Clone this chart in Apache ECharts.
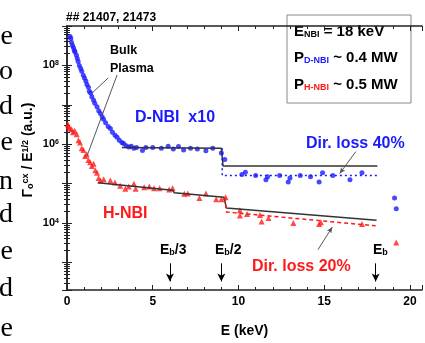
<!DOCTYPE html>
<html lang="en">
<head>
<meta charset="UTF-8">
<title>CX flux spectra</title>
<style>
    html, body { margin: 0; padding: 0; background: #fff; }
    #main { width: 425px; height: 343px; }
</style>
</head>
<body>
<div id="main"></div>
<script src="https://cdn.jsdelivr.net/npm/echarts@6/dist/echarts.min.js"></script>
<script>
    // D-NBI points (already x10), energy in keV
    var dnbiE = [0.18, 0.22, 0.27, 0.32, 0.38, 0.43, 0.47, 0.55, 0.6, 0.65, 0.72, 0.8, 0.86, 0.95, 1.02, 1.1,
        1.16, 1.25, 1.3, 1.38, 1.45, 1.55, 1.62, 1.75, 1.85, 1.95, 2.05, 2.13, 2.25, 2.4, 2.53, 2.65, 2.8,
        2.92, 3.05, 3.2, 3.3, 3.45, 3.6, 3.75, 3.9, 4.05, 4.4, 4.6, 5.0, 5.5, 5.9, 6.2, 6.5, 6.8, 7.2, 7.6,
        8.1, 8.5, 9.0, 9.2, 10.2, 10.4, 11.0, 11.6, 11.7, 12.4, 12.9, 13.0, 13.6, 14.2, 14.7, 14.9, 15.5,
        16.5, 17.2, 19.1, 19.2];
    var dnbiFlux = [5.4e8, 4.8e8, 3.8e8, 3.2e8, 2.8e8, 2.4e8, 2.2e8, 1.8e8, 1.5e8, 1.26e8, 1.0e8, 8.3e7, 7.1e7,
        5.6e7, 4.8e7, 4.0e7, 3.3e7, 2.8e7, 2.2e7, 2.0e7, 1.6e7, 1.3e7, 1.1e7, 8.9e6, 7.1e6, 6.0e6, 5.0e6,
        4.3e6, 3.5e6, 2.8e6, 2.5e6, 2.0e6, 1.7e6, 1.5e6, 1.26e6, 1.1e6, 1.05e6, 9.1e5, 8.5e5, 8.9e5, 7.9e5,
        8.3e5, 6.9e5, 8.3e5, 8.3e5, 7.9e5, 8.9e5, 7.6e5, 8.7e5, 7.1e5, 7.9e5, 7.6e5, 6.8e5, 7.9e5, 6.0e5,
        4.1e5, 1.7e5, 1.95e5, 1.6e5, 1.26e5, 1.5e5, 1.6e5, 1.1e5, 1.4e5, 1.6e5, 1.5e5, 1.1e5, 1.9e5, 1.6e5,
        1.26e5, 1.9e5, 4.3e4, 2.3e4];

    // H-NBI points
    var hnbiE = [0.05, 0.1, 0.15, 0.27, 0.35, 0.45, 0.57, 0.67, 0.76, 0.86, 0.96, 1.06, 1.15, 1.25, 1.35, 1.45,
        1.55, 1.65, 1.75, 1.84, 1.95, 2.14, 2.53, 2.8, 3.1, 3.4, 3.6, 3.9, 4.0, 4.5, 4.8, 5.08, 5.4, 5.96,
        6.16, 6.84, 7.04, 7.72, 8.1, 8.7, 9.0, 9.25, 10.08, 10.08, 10.5, 11.25, 11.35, 11.75, 13.2, 14.7,
        14.8, 17.2, 19.2];
    var hnbiFlux = [3.2e6, 2.8e6, 2.5e6, 2.4e6, 2.0e6, 2.2e6, 1.8e6, 1.26e6, 1.1e6, 7.9e5, 7.1e5, 5.0e5, 5.6e5,
        4.0e5, 3.5e5, 2.8e5, 3.2e5, 2.2e5, 1.9e5, 1.4e5, 1.2e5, 1.3e5, 1.2e5, 1.07e5, 8.9e4, 7.4e4, 8.5e4,
        1.0e5, 7.4e4, 8.1e4, 8.5e4, 7.6e4, 7.6e4, 7.1e4, 7.6e4, 5.5e4, 5.6e4, 4.3e4, 5.6e4, 4.0e4, 4.0e4,
        4.5e4, 2.1e4, 1.55e4, 1.7e4, 1.6e4, 1.1e4, 1.35e4, 1.0e4, 9.5e3, 1.05e4, 9.5e3, 3.2e3];

    // bulk plasma model curves (black) and direct-loss curves (dashed)
    var bulkDE = [3.2, 9.0, 9.1, 18.1];
    var bulkDFlux = [8.3e5, 7.9e5, 2.8e5, 2.8e5];
    var lossDE = [9.05, 9.05, 18.1];
    var lossDFlux = [7.9e5, 1.6e5, 1.6e5];
    var bulkHE = [1.8, 6.15, 6.25, 9.15, 9.3, 18.05];
    var bulkHFlux = [1.05e5, 6.8e4, 5.9e4, 4.5e4, 2.4e4, 1.17e4];
    var lossHE = [9.2, 9.3, 18.0];
    var lossHFlux = [4.5e4, 1.9e4, 8.5e3];

    var xTicks = [0, 5, 10, 15, 20];
    var yLabelPowers = [4, 6, 8];

    function pairs(xs, ys) {
        return xs.map(function (x, i) { return [x, ys[i]]; });
    }

    var FONT = '"Liberation Sans", Arial, sans-serif';
    var BLUE = '#1a1aff';
    var RED = '#ff1a1a';
    var INK = '#222';

    var chart = echarts.init(document.getElementById('main'), null, {renderer: 'canvas'});

    var axisLine = {show: true, lineStyle: {color: INK, width: 1.5}};
    var xCommon = {
        type: 'value', min: 0, max: 20.7, interval: 5,
        axisLine: axisLine,
        axisTick: {inside: true, length: 5, lineStyle: {color: INK}},
        minorTick: {show: true, splitNumber: 5, length: 3, lineStyle: {color: INK}},
        splitLine: {show: false}
    };
    var yCommon = {
        type: 'log', logBase: 10, min: 200, max: 1e9,
        axisLine: axisLine,
        axisTick: {inside: true, length: 5, lineStyle: {color: INK}},
        minorTick: {show: true, splitNumber: 9, length: 3, lineStyle: {color: INK}},
        splitLine: {show: false}
    };

    // text style for echarts components
    var bold = function (size, color) {
        return {fontSize: size, fontWeight: 'bold', fontFamily: FONT, color: color || '#000'};
    };
    // text style for graphic (zrender) elements and their rich tokens
    var gt = function (size, color) {
        return {font: 'bold ' + size + 'px ' + FONT, fill: color || '#000'};
    };
    var sub = function (size, color) {
        return Object.assign(gt(size, color), {verticalAlign: 'bottom', lineHeight: size});
    };
    var sup = function (size, color) {
        return Object.assign(gt(size, color), {verticalAlign: 'top', lineHeight: size});
    };
    var label = function (text, x, y, size, color) {
        return {type: 'text', style: Object.assign(gt(size, color), {text: text, x: x, y: y, verticalAlign: 'middle'})};
    };
    var richLabel = function (text, x, y, rich) {
        return {type: 'text', style: {text: text, x: x, y: y, verticalAlign: 'middle', rich: rich}};
    };

    chart.setOption({
        animation: false,
        backgroundColor: '#fff',
        grid: {left: 67, right: 3, top: 26, bottom: 43},
        xAxis: [
            Object.assign({}, xCommon, {
                position: 'bottom',
                name: 'E (keV)', nameLocation: 'middle', nameGap: 34,
                nameTextStyle: bold(14),
                axisLabel: Object.assign({margin: 6, formatter: function (v) {
                    return xTicks.indexOf(v) >= 0 ? String(v) : '';
                }}, bold(12))
            }),
            Object.assign({}, xCommon, {position: 'top', axisLabel: {show: false}})
        ],
        yAxis: [
            Object.assign({}, yCommon, {
                position: 'left',
                axisLabel: {
                    margin: 8,
                    formatter: function (v) {
                        var e = Math.log10(v), n = Math.round(e);
                        if (Math.abs(e - n) > 1e-6 || yLabelPowers.indexOf(n) < 0) return '';
                        return '{b|10}{s|' + n + '}';
                    },
                    rich: {
                        b: bold(11),
                        s: Object.assign(bold(7), {verticalAlign: 'top', lineHeight: 8})
                    }
                }
            }),
            Object.assign({}, yCommon, {position: 'right', axisLabel: {show: false}})
        ],
        series: [
            {
                name: 'D-NBI', type: 'scatter', symbol: 'circle', symbolSize: 5,
                itemStyle: {color: BLUE}, data: pairs(dnbiE, dnbiFlux), z: 3
            },
            {
                name: 'H-NBI', type: 'scatter', symbol: 'triangle', symbolSize: 6,
                itemStyle: {color: RED}, data: pairs(hnbiE, hnbiFlux), z: 3
            },
            {
                name: 'bulk D', type: 'line', symbol: 'none', data: pairs(bulkDE, bulkDFlux),
                lineStyle: {color: '#333', width: 1.5}, z: 4
            },
            {
                name: 'bulk H', type: 'line', symbol: 'none', data: pairs(bulkHE, bulkHFlux),
                lineStyle: {color: '#333', width: 1.5}, z: 4
            },
            {
                name: 'loss D', type: 'line', symbol: 'none', data: pairs(lossDE, lossDFlux),
                lineStyle: {color: BLUE, width: 1.5, type: [2, 3]}, z: 4
            },
            {
                name: 'loss H', type: 'line', symbol: 'none', data: pairs(lossHE, lossHFlux),
                lineStyle: {color: RED, width: 1.5, type: [4, 3]}, z: 4
            },
            {
                // annotation arrows and pointer lines
                type: 'line', data: [], silent: true,
                markLine: {
                    silent: true, animation: false,
                    symbol: ['none', 'arrow'], symbolSize: [6, 8],
                    label: {show: false},
                    lineStyle: {color: '#000', width: 1, type: 'solid'},
                    data: [
                        [{coord: [6, 950]}, {coord: [6, 330]}],
                        [{coord: [9, 950]}, {coord: [9, 330]}],
                        [{coord: [18, 950]}, {coord: [18, 330]}],
                        [{coord: [16.84, 6.5e5], lineStyle: {color: '#555'}}, {coord: [15.9, 1.8e5], symbolSize: [4, 6]}],
                        [{coord: [14.63, 2.1e3], lineStyle: {color: '#555'}}, {coord: [15.47, 7.9e3], symbolSize: [4, 6]}],
                        [{coord: [2.4, 4.8e7], symbol: 'none', lineStyle: {color: '#555'}}, {coord: [1.52, 2.1e7], symbol: 'none'}],
                        [{coord: [2.92, 5.7e7], symbol: 'none', lineStyle: {color: '#555'}}, {coord: [1.17, 5.1e5], symbol: 'none'}]
                    ]
                }
            }
        ],
        graphic: [
            // cropped text of the surrounding page on the left edge
            {type: 'group', silent: true, children: ['e', 'o', 'd', 'e', 'n', 'd', 'e', 'd', 'e'].map(function (ch, i) {
                var ys = [37, 72, 107, 143, 182, 215, 252, 289, 329];
                return {type: 'text', style: {text: ch, x: 13, y: ys[i], align: 'right', verticalAlign: 'middle',
                    font: '28px "Liberation Serif", "Times New Roman", serif', fill: '#000'}};
            })},
            label('## 21407, 21473', 66, 18, 12),
            {type: 'text', rotation: Math.PI / 2, x: 28, y: 150, style: {
                text: '{g|Γ}{sub|o}{sup|cx}{g| / E}{sup|1/2}{g| (a.u.)}',
                align: 'center', verticalAlign: 'middle',
                rich: {g: gt(14), sub: sub(9), sup: sup(9)}
            }},
            label('Bulk', 110, 51, 12.5),
            label('Plasma', 110, 69, 12.5),
            label('D-NBI  x10', 135, 118, 16, BLUE),
            label('H-NBI', 103, 214, 16, RED),
            label('Dir. loss 40%', 306, 144, 16, BLUE),
            label('Dir. loss 20%', 252, 267, 16, RED),
            richLabel('{m|E}{s|b}{m|/3}', 160, 250, {m: gt(14), s: sub(9)}),
            richLabel('{m|E}{s|b}{m|/2}', 215, 250, {m: gt(14), s: sub(9)}),
            richLabel('{m|E}{s|b}', 373, 250, {m: gt(14), s: sub(9)}),
            // parameter box
            {type: 'group', children: [
                {type: 'rect', shape: {x: 287, y: 15, width: 124, height: 88},
                    style: {fill: '#fff', stroke: '#888', lineWidth: 1}},
                richLabel('{m|E}{k|NBI}{m| = 18 keV}', 294, 32, {m: gt(15), k: sub(9)}),
                richLabel('{m|P}{k|D-NBI}{m| ~ 0.4 MW}', 294, 58, {m: gt(15), k: sub(9, BLUE)}),
                richLabel('{m|P}{k|H-NBI}{m| ~ 0.5 MW}', 294, 85, {m: gt(15), k: sub(9, RED)})
            ]}
        ]
    });
</script>
</body>
</html>
